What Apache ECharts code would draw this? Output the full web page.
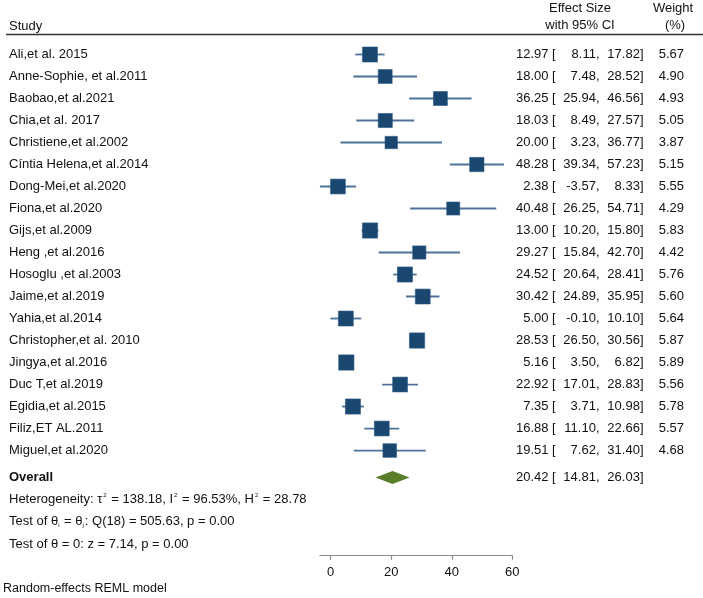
<!DOCTYPE html>
<html>
<head>
<meta charset="utf-8">
<script src="https://cdn.jsdelivr.net/npm/echarts@6/dist/echarts.min.js"></script>
<style>
  html, body { margin: 0; padding: 0; background: #fff; }
  #chart { width: 703px; height: 598px; }
</style>
</head>
<body>
<div id="chart"></div>
<script>
// Study-level data
const studies = [
    'Ali,et al. 2015', 'Anne-Sophie, et al.2011', 'Baobao,et al.2021', 'Chia,et al. 2017',
    'Christiene,et al.2002', 'Cíntia Helena,et al.2014', 'Dong-Mei,et al.2020', 'Fiona,et al.2020',
    'Gijs,et al.2009', 'Heng ,et al.2016', 'Hosoglu ,et al.2003', 'Jaime,et al.2019',
    'Yahia,et al.2014', 'Christopher,et al. 2010', 'Jingya,et al.2016', 'Duc T,et al.2019',
    'Egidia,et al.2015', 'Filiz,ET AL.2011', 'Miguel,et al.2020',
];
const effectSize = [12.97, 18.00, 36.25, 18.03, 20.00, 48.28, 2.38, 40.48, 13.00, 29.27, 24.52, 30.42, 5.00, 28.53, 5.16, 22.92, 7.35, 16.88, 19.51];
const ciLow = [8.11, 7.48, 25.94, 8.49, 3.23, 39.34, -3.57, 26.25, 10.20, 15.84, 20.64, 24.89, -0.10, 26.50, 3.50, 17.01, 3.71, 11.10, 7.62];
const ciHigh = [17.82, 28.52, 46.56, 27.57, 36.77, 57.23, 8.33, 54.71, 15.80, 42.70, 28.41, 35.95, 10.10, 30.56, 6.82, 28.83, 10.98, 22.66, 31.40];
const weights = [5.67, 4.90, 4.93, 5.05, 3.87, 5.15, 5.55, 4.29, 5.83, 4.42, 5.76, 5.60, 5.64, 5.87, 5.89, 5.56, 5.78, 5.57, 4.68];

const overallLabel = 'Overall';
const overallEs = 20.42;
const overallLow = 14.81;
const overallHigh = 26.03;

const xTicks = [0, 20, 40, 60];
const xMax = 60;

const statLines = [
    '{t|Heterogeneity: τ}{sup|2}{t| = 138.18, I}{sup|2}{t| = 96.53%, H}{sup|2}{t| = 28.78}',
    '{t|Test of θ}{sub|i}{t| = θ}{sub|j}{t|: Q(18) = 505.63, p = 0.00}',
    '{t|Test of θ = 0: z = 7.14, p = 0.00}',
];
const footnote = 'Random-effects REML model';

// ---- layout ----
const FONT = '13px "Liberation Sans", Arial, sans-serif';
const BOLD = 'bold 13px "Liberation Sans", Arial, sans-serif';
const TEXT = '#111';
const NAVY = '#1a476f';
const CI_COLOR = '#4f7398';
const GREEN = '#5a7d2a';
const overallRow = studies.length + 0.23;

const fmt = (v) => v.toFixed(2);

const el = document.getElementById('chart');
const chart = echarts.init(el, null, { renderer: 'canvas' });

function txt(text, x, y, align, font) {
    return {
        type: 'text',
        style: {
            text, x, y, fill: TEXT, font: font || FONT,
            align: align || 'left', textAlign: align || 'left',
            verticalAlign: 'middle', textVerticalAlign: 'middle',
        },
    };
}

function rowText(label, es, lo, hi, w, y, bold) {
    const out = [
        txt(label, 9, y, 'left', bold ? BOLD : FONT),
        txt(fmt(es), 548.5, y, 'right'),
        txt('[', 552, y, 'left'),
        txt(fmt(lo) + ',', 599.5, y, 'right'),
        txt(fmt(hi) + ']', 643.5, y, 'right'),
    ];
    if (w != null) out.push(txt(fmt(w), 684, y, 'right'));
    return out;
}

const studyData = studies.map((s, i) => [effectSize[i], i, ciLow[i], ciHigh[i], weights[i]]);

const option = {
    animation: false,
    backgroundColor: '#fff',
    textStyle: { fontFamily: '"Liberation Sans", Arial, sans-serif' },
    grid: { left: 319.9, width: 192.4, top: 54.5, height: 501.2 },
    xAxis: {
        type: 'value',
        min: Math.min(...ciLow),
        max: xMax,
        splitLine: { show: false },
        axisLine: { show: true, onZero: false, lineStyle: { color: '#8a8a8a', width: 1.2 } },
        axisTick: { show: true, length: 4, customValues: xTicks, lineStyle: { color: '#8a8a8a', width: 1.2 } },
        axisLabel: { customValues: xTicks, color: TEXT, fontSize: 13, margin: 10 },
    },
    yAxis: {
        type: 'value',
        inverse: true,
        min: 0,
        max: 22.78,
        show: false,
    },
    series: [
        {
            type: 'custom',
            name: 'studies',
            data: studyData,
            renderItem(params, api) {
                const row = api.value(1);
                const p = api.coord([api.value(0), row]);
                const a = api.coord([api.value(2), row]);
                const b = api.coord([api.value(3), row]);
                const side = 6.3 * Math.sqrt(api.value(4));
                const i = params.dataIndex;
                return {
                    type: 'group',
                    children: [
                        { type: 'line', shape: { x1: a[0], y1: a[1], x2: b[0], y2: b[1] }, style: { stroke: CI_COLOR, lineWidth: 1.8 } },
                        { type: 'rect', shape: { x: p[0] - side / 2, y: p[1] - side / 2, width: side, height: side }, style: { fill: NAVY, stroke: '#2d5a85', lineWidth: 0.6 } },
                        ...rowText(studies[i], effectSize[i], ciLow[i], ciHigh[i], weights[i], p[1], false),
                    ],
                };
            },
        },
        {
            type: 'custom',
            name: 'overall',
            data: [[overallEs, overallRow, overallLow, overallHigh]],
            renderItem(params, api) {
                const row = api.value(1);
                const c = api.coord([api.value(0), row]);
                const a = api.coord([api.value(2), row]);
                const b = api.coord([api.value(3), row]);
                const h = 6.5;
                return {
                    type: 'group',
                    children: [
                        {
                            type: 'polygon',
                            shape: { points: [[a[0], c[1]], [c[0], c[1] - h], [b[0], c[1]], [c[0], c[1] + h]] },
                            style: { fill: GREEN },
                        },
                        ...rowText(overallLabel, overallEs, overallLow, overallHigh, null, c[1], true),
                    ],
                };
            },
        },
    ],
    graphic: [
        txt('Study', 9, 26),
        txt('Effect Size', 580, 8.5, 'center'),
        txt('with 95% CI', 580, 25.5, 'center'),
        txt('Weight', 673, 8.5, 'center'),
        txt('(%)', 675, 25.5, 'center'),
        { type: 'line', shape: { x1: 6, y1: 34.5, x2: 703, y2: 34.5 }, style: { stroke: '#333', lineWidth: 1.3 } },
        ...statLines.map((s, k) => ({
            type: 'text',
            x: 9,
            y: 499 + k * 22.5,
            style: {
                text: s,
                fill: TEXT,
                verticalAlign: 'middle', textVerticalAlign: 'middle',
                rich: {
                    t: { font: FONT, fill: TEXT },
                    sup: { fontSize: 6, fill: TEXT, verticalAlign: 'top', padding: [0, 1, 0, 1] },
                    sub: { fontSize: 6, fill: TEXT, verticalAlign: 'bottom', padding: [0, 1, 0, 0] },
                },
            },
        })),
        txt(footnote, 3, 589, 'left', '12.5px "Liberation Sans", Arial, sans-serif'),
    ],
};

chart.setOption(option);
</script>
</body>
</html>
